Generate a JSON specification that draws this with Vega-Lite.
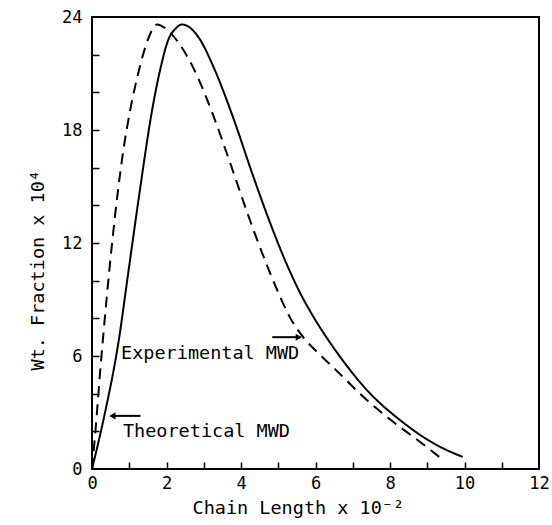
{
  "$schema": "https://vega.github.io/schema/vega-lite/v6.json",
  "width": 447,
  "height": 452,
  "autosize": "none",
  "padding": {"left": 92, "top": 17, "right": 13, "bottom": 56},
  "background": "white",
  "config": {
    "view": {"stroke": "black", "strokeWidth": 2},
    "font": "DejaVu Sans Mono",
    "axis": {
      "domain": false,
      "grid": false,
      "tickColor": "black",
      "tickWidth": 1.5,
      "labelFont": "DejaVu Sans Mono",
      "labelFontSize": 17,
      "labelColor": "black",
      "labelOverlap": false,
      "titleFont": "DejaVu Sans Mono",
      "titleFontSize": 18.5,
      "titleFontWeight": "normal",
      "titleColor": "black"
    }
  },
  "resolve": {"axis": {"x": "independent", "y": "independent"}},
  "datasets": {
    "curves": [
      {"curve": "solid", "x": 0, "y": 0},
      {"curve": "solid", "x": 0.35, "y": 3.0},
      {"curve": "solid", "x": 0.7, "y": 6.6},
      {"curve": "solid", "x": 1.0, "y": 10.8},
      {"curve": "solid", "x": 1.3, "y": 15.0},
      {"curve": "solid", "x": 1.6, "y": 18.9},
      {"curve": "solid", "x": 1.83, "y": 21.2},
      {"curve": "solid", "x": 2.05, "y": 22.8},
      {"curve": "solid", "x": 2.25, "y": 23.4},
      {"curve": "solid", "x": 2.42, "y": 23.6},
      {"curve": "solid", "x": 2.65, "y": 23.4},
      {"curve": "solid", "x": 2.9, "y": 22.8},
      {"curve": "solid", "x": 3.25, "y": 21.4},
      {"curve": "solid", "x": 3.8, "y": 18.6},
      {"curve": "solid", "x": 4.3, "y": 15.7},
      {"curve": "solid", "x": 4.7, "y": 13.5},
      {"curve": "solid", "x": 5.2, "y": 11.0},
      {"curve": "solid", "x": 5.6, "y": 9.3},
      {"curve": "solid", "x": 6.0, "y": 7.9},
      {"curve": "solid", "x": 6.5, "y": 6.4},
      {"curve": "solid", "x": 7.4, "y": 4.15},
      {"curve": "solid", "x": 8.3, "y": 2.55},
      {"curve": "solid", "x": 9.2, "y": 1.33},
      {"curve": "solid", "x": 9.95, "y": 0.64},
      {"curve": "dashed", "x": 0, "y": 0},
      {"curve": "dashed", "x": 0.1, "y": 2.2},
      {"curve": "dashed", "x": 0.22, "y": 5.2},
      {"curve": "dashed", "x": 0.4, "y": 9.2},
      {"curve": "dashed", "x": 0.55, "y": 12.2},
      {"curve": "dashed", "x": 0.84, "y": 16.9},
      {"curve": "dashed", "x": 1.02, "y": 19.0},
      {"curve": "dashed", "x": 1.29, "y": 21.4},
      {"curve": "dashed", "x": 1.5, "y": 22.8},
      {"curve": "dashed", "x": 1.75, "y": 23.6},
      {"curve": "dashed", "x": 2.0, "y": 23.35},
      {"curve": "dashed", "x": 2.37, "y": 22.5},
      {"curve": "dashed", "x": 2.72, "y": 21.3},
      {"curve": "dashed", "x": 3.25, "y": 18.8},
      {"curve": "dashed", "x": 3.7, "y": 16.3},
      {"curve": "dashed", "x": 4.17, "y": 13.6},
      {"curve": "dashed", "x": 4.6, "y": 11.3},
      {"curve": "dashed", "x": 4.95, "y": 9.6},
      {"curve": "dashed", "x": 5.3, "y": 8.1},
      {"curve": "dashed", "x": 5.67, "y": 7.0},
      {"curve": "dashed", "x": 6.1, "y": 6.1},
      {"curve": "dashed", "x": 6.5, "y": 5.35},
      {"curve": "dashed", "x": 7.4, "y": 3.62},
      {"curve": "dashed", "x": 8.3, "y": 2.18},
      {"curve": "dashed", "x": 8.8, "y": 1.45},
      {"curve": "dashed", "x": 9.35, "y": 0.6}
    ],
    "labels": [
      {"label": "Experimental MWD", "x": 0.78, "y": 6.15},
      {"label": "Theoretical MWD", "x": 0.83, "y": 2.0}
    ],
    "arrows": [
      {"name": "exp", "x": 4.84, "x2": 5.6, "y": 7.0, "head": 5.55, "shape": "triangle-right"},
      {"name": "theo", "x": 0.5, "x2": 1.3, "y": 2.82, "head": 0.55, "shape": "triangle-left"}
    ]
  },
  "layer": [
    {
      "data": {"name": "curves"},
      "mark": {"type": "line", "interpolate": "monotone", "strokeWidth": 2, "color": "black"},
      "encoding": {
        "x": {
          "field": "x", "type": "quantitative",
          "scale": {"domain": [0, 12], "nice": false},
          "axis": {
            "orient": "bottom",
            "values": [0,2,4,6,8,10,12],
            "ticks": false,
            "tickSize": 0,
            "title": "Chain Length x 10⁻²",
            "titleX": 100,
            "titleY": 44,
            "titleAlign": "left",
            "titleBaseline": "alphabetic",
            "labelPadding": 6,
            "labelFlush": false
          }
        },
        "y": {
          "field": "y", "type": "quantitative",
          "scale": {"domain": [0, 24], "nice": false},
          "axis": {
            "orient": "left",
            "values": [0,6,12,18,24],
            "ticks": false,
            "tickSize": 0,
            "title": "Wt. Fraction x 10⁴",
            "titleX": -49,
            "titleY": 353,
            "titleAngle": -90,
            "titleAlign": "left",
            "titleBaseline": "alphabetic",
            "labelPadding": 10,
            "labelFlush": false
          }
        },
        "detail": {"field": "curve"},
        "strokeDash": {
          "field": "curve", "type": "nominal",
          "scale": {"domain": ["solid", "dashed"], "range": [[1, 0], [11, 7]]},
          "legend": null
        }
      }
    },
    {
      "data": {"name": "arrows"},
      "mark": {"type": "rule", "color": "black", "strokeWidth": 2},
      "encoding": {
        "x": {
          "field": "x", "type": "quantitative",
          "axis": {
            "orient": "top",
            "offset": -452,
            "values": [1,2,3,4,5,6,7,8,9,10,11],
            "labels": false,
            "ticks": true,
            "tickSize": 7,
            "title": null
          }
        },
        "x2": {"field": "x2"},
        "y": {
          "field": "y", "type": "quantitative",
          "axis": {
            "orient": "right",
            "offset": -447,
            "values": [2,4,6,8,10,12,14,16,18,20,22],
            "labels": false,
            "ticks": true,
            "tickSize": 7,
            "title": null
          }
        }
      }
    },
    {
      "data": {"name": "arrows"},
      "mark": {"type": "point", "filled": true, "color": "black", "size": 50, "opacity": 1},
      "encoding": {
        "x": {"field": "head", "type": "quantitative", "axis": null},
        "y": {"field": "y", "type": "quantitative", "axis": null},
        "shape": {"field": "shape", "type": "nominal", "scale": null}
      }
    },
    {
      "data": {"name": "labels"},
      "mark": {"type": "text", "align": "left", "baseline": "middle", "font": "DejaVu Sans Mono", "fontSize": 18.5, "color": "black"},
      "encoding": {
        "x": {"field": "x", "type": "quantitative", "axis": null},
        "y": {"field": "y", "type": "quantitative", "axis": null},
        "text": {"field": "label"}
      }
    }
  ]
}
